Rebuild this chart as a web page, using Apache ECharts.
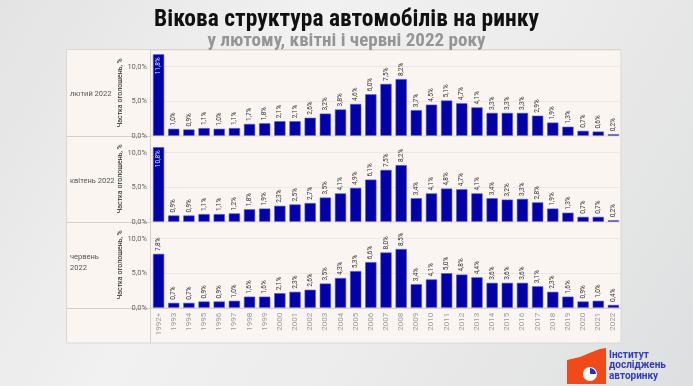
<!DOCTYPE html>
<html><head><meta charset="utf-8">
<script src="https://cdn.jsdelivr.net/npm/echarts@6/dist/echarts.min.js"></script>
<style>
html,body{margin:0;padding:0;width:693px;height:386px;overflow:hidden;
background:linear-gradient(120deg,#e3e3e3 0%,#f1f1f1 35%,#ececec 60%,#dedfe0 100%);}
#c{width:693px;height:386px;}
</style>
</head><body><div id="c"></div>
<script>
const years = ['1992+','1993','1994','1995','1996','1997','1998','1999','2000','2001','2002','2003','2004','2005','2006','2007','2008','2009','2010','2011','2012','2013','2014','2015','2016','2017','2018','2019','2020','2021','2022'];
const febValues = [11.8,1.0,0.9,1.1,1.0,1.1,1.7,1.8,2.1,2.1,2.6,3.2,3.8,4.6,6.0,7.5,8.2,3.7,4.5,5.1,4.7,4.1,3.3,3.3,3.3,2.9,1.9,1.3,0.7,0.6,0.2];
const aprValues = [10.8,0.9,0.9,1.1,1.1,1.2,1.8,1.9,2.3,2.5,2.7,3.5,4.1,4.9,6.1,7.5,8.2,3.4,4.1,4.8,4.7,4.1,3.4,3.2,3.3,2.8,1.9,1.3,0.7,0.7,0.2];
const junValues = [7.8,0.7,0.7,0.9,0.9,1.0,1.6,1.6,2.1,2.3,2.6,3.5,4.3,5.3,6.6,8.0,8.5,3.4,4.1,5.0,4.8,4.4,3.6,3.6,3.6,3.1,2.3,1.6,0.9,1.0,0.4];
const rowLabels = ['лютий 2022','квітень 2022','червень\n2022'];
const yAxisName = 'Частка оголошень, %';
const titleText = 'Вікова структура автомобілів на ринку';
const subtitleText = 'у лютому, квітні і червні 2022 року';
const logoLines = ['Інститут','досліджень','авторинку'];

const fmt = v => v.toFixed(1).replace('.', ',') + '%';
const rows = [febValues, aprValues, junValues];
const zeroY = [135.7, 221.7, 307.7];
const yMax = 12.4, pxPer = 6.9;
const plotLeft = 151, plotRight = 621, panelLeft = 66.5, panelTop = 49.5, panelBottom = 343;
const BAR = '#0202a6';
const condensed = "'Roboto Condensed','Liberation Sans Narrow','DejaVu Sans Condensed',Roboto";

const chart = echarts.init(document.getElementById('c'));
const grids = [], xAxes = [], yAxes = [], series = [];
rows.forEach((vals, i) => {
  const h = yMax * pxPer;
  grids.push({left: plotLeft, width: plotRight - plotLeft, top: zeroY[i] - h, height: h, containLabel: false});
  xAxes.push({type: 'category', gridIndex: i, data: years,
    axisLine: {show: false}, axisTick: {show: false},
    axisLabel: {show: i === 2, rotate: 90, color: '#9a9a9a', fontSize: 8, margin: 5, fontFamily: 'Roboto', interval: 0}});
  yAxes.push({type: 'value', gridIndex: i, min: 0, max: yMax, interval: 5,
    name: yAxisName, nameLocation: 'middle', nameRotate: 90, nameGap: 27, nameMoveOverlap: false,
    nameTextStyle: {fontSize: 7, color: '#222', fontFamily: 'Roboto'},
    axisLine: {show: false}, axisTick: {show: false},
    axisLabel: {showMaxLabel: false, formatter: v => fmt(v), fontSize: 7.5, color: '#666', margin: 4, fontFamily: 'Roboto'},
    splitLine: {show: true, lineStyle: {color: '#efe7e2', width: 1}}});
  series.push({type: 'bar', xAxisIndex: i, yAxisIndex: i, barCategoryGap: '26%',
    itemStyle: {color: BAR, borderColor: '#5555d8', borderWidth: 0.6},
    data: vals.map((v, j) => {
      if (v > 9.5) {
        return {value: v, label: {show: true, position: 'insideTop', rotate: 90, align: 'right', verticalAlign: 'middle', distance: 3, color: '#dfe0ff'}};
      }
      return v;
    }),
    label: {show: true, position: 'top', rotate: 90, align: 'left', verticalAlign: 'middle', distance: 3,
      fontSize: 6.5, color: '#333', fontFamily: 'Roboto', formatter: p => fmt(p.value)}});
});

const graphics = [
  {type: 'rect', z: -10, shape: {x: panelLeft, y: panelTop, width: plotRight - panelLeft, height: panelBottom - panelTop},
   style: {fill: '#fbf5f1', stroke: '#dcd6d2', lineWidth: 1}},
  {type: 'line', z: -5, shape: {x1: plotLeft - 0.5, y1: panelTop, x2: plotLeft - 0.5, y2: panelBottom}, style: {stroke: '#d6d0cc', lineWidth: 1}}
];
zeroY.forEach(y => graphics.push({type: 'line', z: -5, shape: {x1: panelLeft, y1: Math.round(y) + 0.5, x2: plotRight, y2: Math.round(y) + 0.5}, style: {stroke: '#d6d0cc', lineWidth: 1}}));
const labelY = [94, 181, 263];
rowLabels.forEach((t, i) => graphics.push({type: 'text', z: 5, style: {x: 70, y: labelY[i], text: t, fill: '#555', fontSize: 7.5, fontFamily: 'Roboto', verticalAlign: 'middle', lineHeight: 11}}));
// logo
graphics.push({type: 'polygon', z: 5, shape: {points: [[567,360],[580,357],[592,352],[600,349],[606,348],[606,384],[567,384]]}, style: {fill: '#f04a1a'}});
graphics.push({type: 'circle', z: 6, shape: {cx: 590, cy: 374, r: 7}, style: {fill: '#fff'}});
graphics.push({type: 'sector', z: 7, shape: {cx: 590, cy: 374, r0: 0, r: 6, startAngle: -Math.PI/2, endAngle: 0}, style: {fill: '#2a2fb8'}});
logoLines.forEach((t, i) => graphics.push({type: 'text', z: 6, style: {x: 609, y: 355 + i * 10.5, text: t, fill: '#2f3dbd', fontSize: 10, fontWeight: 'bold', fontFamily: 'Roboto', verticalAlign: 'middle'}}));

chart.setOption({
  animation: false,
  backgroundColor: 'transparent',
  title: [
    {text: titleText, left: 'center', top: 3, textStyle: {fontSize: 23.5, fontWeight: 'bold', color: '#111', fontFamily: condensed}},
    {text: subtitleText, left: 'center', top: 27, textStyle: {fontSize: 19, fontWeight: 'bold', color: '#959595', fontFamily: condensed}}
  ],
  grid: grids, xAxis: xAxes, yAxis: yAxes, series: series, graphic: graphics
});
</script>
</body></html>
